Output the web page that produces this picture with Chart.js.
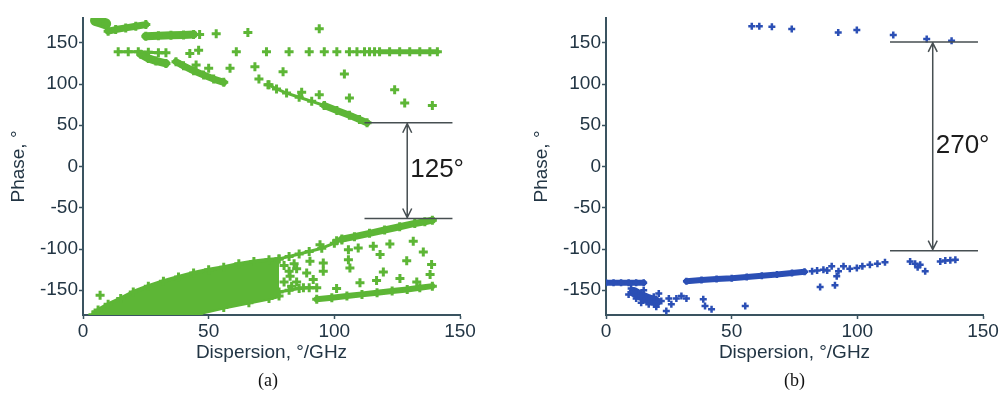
<!DOCTYPE html>
<html>
<head>
<meta charset="utf-8">
<script src="https://cdn.jsdelivr.net/npm/chart.js@4.4.0/dist/chart.umd.min.js"></script>
<style>
html, body { margin: 0; padding: 0; background: #fff; }
#wrap { position: relative; width: 1001px; height: 399px; overflow: hidden; }
#chartA { position: absolute; left: 0; top: 0; }
#chartB { position: absolute; left: 500px; top: 0; }
.cap { position: absolute; top: 370px; font-family: 'Liberation Serif', 'Times New Roman', serif; font-size: 18px; color: #111; }
</style>
</head>
<body>
<div id="wrap">
  <canvas id="chartA" width="500" height="399"></canvas>
  <canvas id="chartB" width="501" height="399"></canvas>
  <div class="cap" style="left:258px">(a)</div>
  <div class="cap" style="left:784px">(b)</div>
</div>
<script>
// axes
const xTicks = [0, 50, 100, 150];
const yTicks = [-150, -100, -50, 0, 50, 100, 150];

// (a) upper group, [dispersion, phase]
const aTopBlob = [[5, 177], [7, 175], [9, 173]];
const aTopBandB = [[10, 164], [13, 166], [17, 168], [21, 170], [25, 172]];
const aTopBandC = [[25, 158], [30, 158.5], [35, 159], [40, 159.5], [44, 160]];
const aRowD = [[14, 139], [18, 139], [22, 139], [26, 138.5], [30, 138], [33, 138]];
const aBandD = [[23, 136], [26, 131], [29, 128], [33, 125]];
const aBandE = [[37, 127], [40, 122], [44, 116], [48, 111], [52, 106], [56, 102]];
const aRow139 = [[118, 139], [122, 139], [126, 139], [130, 139], [134, 139], [138, 139], [141, 139]];
const aSlopeThin = [[74, 99], [77, 94], [81, 89], [86, 84], [91, 79], [96, 74]];
const aSlopeThick = [[96, 74], [101, 68], [106, 62], [110, 57], [113, 53]];
const aTopScatter = [
  [46.4, 160], [53, 161], [65.6, 162.5], [42.5, 137], [46, 141], [61, 139], [73, 139],
  [45, 123], [50, 119], [58.5, 119], [68.4, 121], [70, 106], [73.6, 99], [94, 167],
  [82, 139], [90, 139], [96, 139], [101, 139], [106, 139], [109, 139], [112, 139],
  [114, 139], [116, 139], [79.6, 115], [104, 112], [87, 90], [94, 87], [106, 83],
  [124, 93], [128, 77], [139, 74]
];

// (a) lower group
const aWedgeTop = [[4, -180], [6, -174], [10, -167], [15, -160], [20, -152], [26, -145], [32, -139], [38, -134],
  [44, -129], [50, -125], [56, -122], [62, -118], [68, -115], [74, -113], [78, -112]];
const aWedgeBottom = [[4, -180], [20, -180], [30, -180], [40, -180], [46, -178], [56, -171], [66, -165], [74, -160], [78, -157]];
const aUpperEdge = [[78, -112], [82, -109], [86, -106], [90, -103], [95, -99], [100, -93], [103, -89]];
const aUpperBand = [[103, -88], [108, -85], [114, -81], [120, -77], [126, -73], [132, -69], [136, -67], [139, -65]];
const aLowerEdge = [[78, -152], [82, -150], [86, -148], [90, -147], [93, -147]];
const aLowerBand = [[93, -161], [99, -159], [105, -157], [111, -155], [117, -153], [123, -151], [129, -149], [134, -147], [139, -145]];
const aMidScatter = [
  [6.8, -156], [94.3, -94.8], [100.9, -89.9], [105.6, -100.8], [109.5, -98.8], [115.5, -96.8], [122.1, -94],
  [131.4, -90.7], [135.4, -103.6], [90.3, -114.9], [95.6, -116.9], [105.6, -112.9], [118.2, -106.8],
  [128.8, -114.1], [138.7, -118.9], [89, -129], [95.6, -127], [106.2, -123], [119.5, -127.8],
  [126.1, -135.8], [138.1, -131], [82.4, -133], [91.6, -137], [110.2, -141], [116.8, -138.3],
  [132.8, -139.9], [87.7, -147.1], [100.9, -148],
  [80, -120], [82, -127], [80, -140], [84, -118], [85, -124], [85, -140], [83, -145]
];

// (b)
const bTop = [[58, 170], [61, 170], [66, 169.5], [73.9, 166.6], [92.4, 162.5], [99.8, 165.4], [114.3, 159.4], [127.6, 154.5], [137.5, 152.5]];
const bBand1 = [[0, -141], [3, -141], [6, -141], [9, -141], [12, -141], [15, -141]];
const bBlob = [[11, -152], [14, -157], [17, -161], [20, -164]];
const bCluster = [[10, -148], [9, -155], [12, -160], [15, -150], [14, -165], [17, -167], [19, -158], [20, -170], [21, -154],
  [22, -163], [24, -175], [25, -160], [26, -167], [28, -160], [30, -157], [32, -160], [38.7, -161], [39.4, -169], [42, -173], [55.4, -169]];
const bBand2 = [[32, -139], [38, -137.5], [44, -136.5], [50, -135.5], [56, -134], [62, -132.5], [68, -131], [74, -129], [79, -127.5]];
const bScatter = [[82, -127], [84, -126], [86.5, -125], [89.8, -121], [88, -126], [92.5, -127], [91.8, -133], [85.2, -146], [91.1, -144],
  [94.5, -121], [97, -124], [99.8, -123], [102, -121], [105, -119], [108, -118], [111, -116], [121, -115], [123, -118],
  [125, -119], [124, -122], [127, -127], [133, -115], [135, -114], [137, -113.5], [139, -113]];

const green = '#5db636';
const blue = '#2b4fb5';
const axisColor = '#3a5360';
const textColor = '#223544';
const sans = "'Liberation Sans', Arial, sans-serif";

const pts = arr => arr.map(p => ({ x: p[0], y: p[1] }));

const band = (arr, color, w, r, bw) => ({
  data: pts(arr), showLine: true, borderColor: color, backgroundColor: color,
  borderWidth: w, borderCapStyle: 'round', borderJoinStyle: 'round',
  pointStyle: 'cross', pointRadius: r, pointBorderWidth: bw, pointBorderColor: color
});

const scat = (arr, color, r, bw) => ({
  data: pts(arr), showLine: false, borderColor: color, backgroundColor: color,
  pointStyle: 'cross', pointRadius: r, pointBorderWidth: bw, pointBorderColor: color
});

// double arrow with the two level lines
const bracketPlugin = {
  id: 'bracket',
  afterDatasetsDraw(chart, args, o) {
    const { ctx, scales: { x, y } } = chart;
    const x1 = x.getPixelForValue(o.x1), x2 = x.getPixelForValue(o.x2);
    const yt = y.getPixelForValue(o.top), yb = y.getPixelForValue(o.bottom);
    const xa = x.getPixelForValue(o.arrowX);
    ctx.save();
    ctx.strokeStyle = '#474f52';
    ctx.lineWidth = 1.5;
    ctx.beginPath();
    ctx.moveTo(x1, yt); ctx.lineTo(x2, yt);
    ctx.moveTo(x1, yb); ctx.lineTo(x2, yb);
    ctx.moveTo(xa, yt); ctx.lineTo(xa, yb);
    ctx.moveTo(xa - 4.5, yt + 10); ctx.lineTo(xa, yt + 1); ctx.lineTo(xa + 4.5, yt + 10);
    ctx.moveTo(xa - 4.5, yb - 10); ctx.lineTo(xa, yb - 1); ctx.lineTo(xa + 4.5, yb - 10);
    ctx.stroke();
    ctx.fillStyle = '#1c1c1c';
    ctx.font = '26px ' + sans;
    ctx.textBaseline = 'middle';
    ctx.fillText(o.label, xa + 3, y.getPixelForValue(o.labelY));
    ctx.restore();
  }
};

function makeChart(id, datasets, axisWidth, padRight, bracket) {
  return new Chart(document.getElementById(id), {
    type: 'scatter',
    data: { datasets },
    plugins: [bracketPlugin],
    options: {
      responsive: false,
      animation: false,
      events: [],
      layout: { padding: { left: 0, right: padRight, top: 18, bottom: 0 } },
      plugins: { legend: { display: false }, tooltip: { enabled: false }, bracket },
      scales: {
        x: {
          type: 'linear', min: 0, max: 150,
          afterFit: s => { s.height = 84; },
          afterBuildTicks: s => { s.ticks = xTicks.map(v => ({ value: v })); },
          grid: { drawOnChartArea: false, tickLength: 4, color: axisColor, tickWidth: 1.5 },
          border: { display: true, color: axisColor, width: 2 },
          ticks: { font: { family: sans, size: 19 }, color: textColor, padding: 1, maxRotation: 0 },
          title: { display: true, text: 'Dispersion, °/GHz', font: { family: sans, size: 19 }, color: textColor, padding: { top: 0, bottom: 35 } }
        },
        y: {
          type: 'linear', min: -180, max: 180,
          afterFit: s => { s.width = axisWidth; },
          afterBuildTicks: s => { s.ticks = yTicks.map(v => ({ value: v })); },
          grid: { drawOnChartArea: false, tickLength: 4, color: axisColor, tickWidth: 1.5 },
          border: { display: true, color: axisColor, width: 2 },
          ticks: { font: { family: sans, size: 19 }, color: textColor, padding: 1 },
          title: { display: true, text: 'Phase, °', font: { family: sans, size: 19 }, color: textColor, padding: { top: axisWidth - 76, bottom: 0 } }
        }
      }
    }
  });
}

const dsA = [
  Object.assign(band(aWedgeTop, green, 4, 4.5, 3), { fill: '+1' }),
  band(aWedgeBottom, green, 4, 4.5, 3),
  band(aTopBlob, green, 11, 4.5, 3),
  band(aTopBandB, green, 7, 4.5, 3),
  band(aTopBandC, green, 8, 4.5, 3),
  band(aRowD, green, 3, 4.5, 3),
  band(aBandD, green, 8, 4.5, 3),
  band(aBandE, green, 7, 4.5, 3),
  band(aRow139, green, 5, 4.5, 3),
  band(aSlopeThin, green, 3, 4.5, 3),
  band(aSlopeThick, green, 7, 4.5, 3),
  band(aUpperEdge, green, 3, 4.5, 3),
  band(aUpperBand, green, 7, 4.5, 3),
  band(aLowerEdge, green, 3, 4.5, 3),
  band(aLowerBand, green, 6, 4.5, 3),
  scat(aTopScatter, green, 4.5, 3),
  scat(aMidScatter, green, 4.5, 3)
];

const dsB = [
  band(bBand1, blue, 6, 3.5, 2.5),
  band(bBlob, blue, 10, 3.5, 2.5),
  band(bBand2, blue, 6, 3.5, 2.5),
  scat(bCluster, blue, 3.5, 2.5),
  scat(bScatter, blue, 3.5, 2.5),
  scat(bTop, blue, 3.5, 2.5)
];

makeChart('chartA', dsA, 83, 40, { x1: 112, x2: 147, top: 53, bottom: -63, arrowX: 129, labelY: -4, label: '125°' });
makeChart('chartB', dsB, 106, 18, { x1: 113, x2: 148, top: 151, bottom: -102, arrowX: 130, labelY: 25, label: '270°' });
</script>
</body>
</html>
